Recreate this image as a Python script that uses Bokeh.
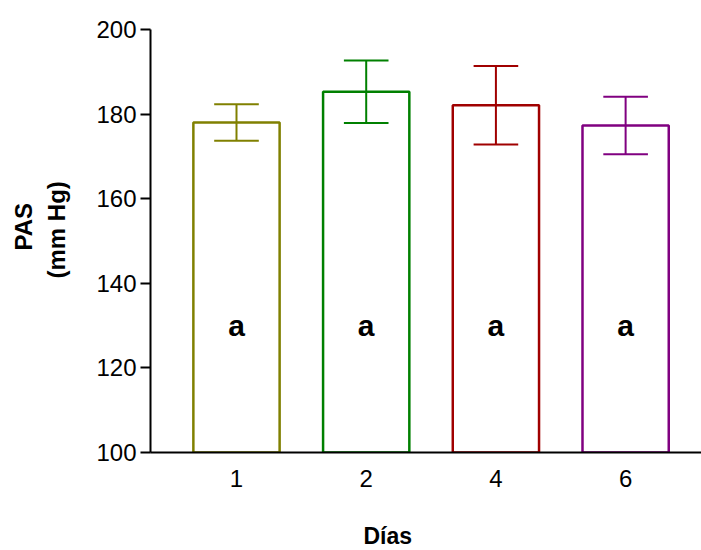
from bokeh.plotting import figure
from bokeh.models import ColumnDataSource, FixedTicker, Range1d, Title
from bokeh.core.properties import value
from bokeh.embed import file_html
from bokeh.resources import INLINE

# ---- data ----
days = ["1", "2", "4", "6"]
means = [178.0, 185.3, 182.1, 177.3]
sem = [4.3, 7.4, 9.3, 6.8]
sig_letters = ["a", "a", "a", "a"]
colors = ["#808000", "#008000", "#A00000", "#800080"]
y_ticks = [100, 120, 140, 160, 180, 200]

FONT = "Liberation Sans"
xs = list(range(len(days)))
upper = [m + s for m, s in zip(means, sem)]
lower = [m - s for m, s in zip(means, sem)]
CAP = 0.172
src = ColumnDataSource(dict(
    x=xs, top=means, up=upper, lo=lower, color=colors, letters=sig_letters,
    cx0=[x - CAP for x in xs], cx1=[x + CAP for x in xs],
    ly=[130] * len(xs),
))

p = figure(width=701, height=550, output_backend="svg", toolbar_location=None,
           x_range=Range1d(-0.663, 3.585), y_range=Range1d(100, 200),
           min_border_left=150, min_border_right=0, min_border_top=29,
           min_border_bottom=98)
p.outline_line_color = None
p.grid.visible = False
p.background_fill_color = "white"
p.border_fill_color = "white"

p.vbar(x="x", top="top", bottom=100, width=0.665, source=src,
       fill_alpha=0, line_color="color", line_width=2.5)
p.segment(x0="x", x1="x", y0="lo", y1="up", source=src, line_color="color", line_width=2)
p.segment(x0="cx0", x1="cx1", y0="up", y1="up", source=src, line_color="color", line_width=2)
p.segment(x0="cx0", x1="cx1", y0="lo", y1="lo", source=src, line_color="color", line_width=2)
p.text(x="x", y="ly", text="letters", source=src, text_font=value(FONT),
       text_font_style="bold", text_font_size="30px", text_align="center",
       text_baseline="middle", text_color="black")

# axes
p.yaxis.ticker = FixedTicker(ticks=y_ticks)
p.yaxis.minor_tick_line_color = None
p.yaxis.major_tick_in = 0
p.yaxis.major_tick_out = 10
p.yaxis.major_tick_line_width = 2
p.yaxis.axis_line_width = 2
p.yaxis.major_label_standoff = 4
p.yaxis.major_label_text_font = FONT
p.yaxis.major_label_text_font_size = "24px"
p.yaxis.major_label_text_color = "black"
# blank spacer label: pushes the titles outward
p.yaxis.axis_label = " "
p.yaxis.axis_label_text_font_size = "10px"
p.yaxis.axis_label_standoff = 10

p.xaxis.ticker = FixedTicker(ticks=xs)
p.xaxis.major_label_overrides = {x: d for x, d in zip(xs, days)}
p.xaxis.minor_tick_line_color = None
p.xaxis.major_tick_line_color = None
p.xaxis.major_tick_in = 0
p.xaxis.major_tick_out = 0
p.xaxis.axis_line_width = 2
p.xaxis.major_label_standoff = 17
p.xaxis.major_label_text_font = FONT
p.xaxis.major_label_text_font_size = "24px"
p.xaxis.major_label_text_color = "black"
p.xaxis.axis_label = " "
p.xaxis.axis_label_text_font_size = "10px"
p.xaxis.axis_label_standoff = 17

# axis titles
p.add_layout(Title(text="Días", align="left", offset=213, standoff=0,
                   text_font=FONT, text_font_style="bold", text_font_size="23px",
                   text_color="black"), "below")
p.add_layout(Title(text="(mm Hg)", align="left", offset=174, standoff=0,
                   text_font=FONT, text_font_style="bold", text_font_size="24px",
                   text_color="black"), "left")
p.add_layout(Title(text="PAS", align="left", offset=202, standoff=8,
                   text_font=FONT, text_font_style="bold", text_font_size="24px",
                   text_color="black"), "left")

open("out.html", "w").write(file_html(p, INLINE))
